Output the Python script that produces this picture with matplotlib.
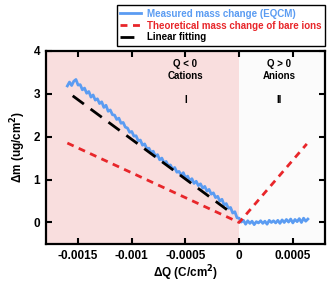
import numpy as np
import matplotlib.pyplot as plt

plt.rcParams['font.family'] = ['Liberation Sans', 'DejaVu Sans']
plt.rcParams['font.weight'] = 'bold'

# measured EQCM mass change (charge in 1e-5 C/cm2)
q_meas = [-160, -158, -156, -154, -152, -150, -148, -146, -144, -142,
          -140, -138, -136, -134, -132, -130, -128, -126, -124, -122,
          -120, -118, -116, -114, -112, -110, -108, -106, -104, -102,
          -100, -98, -96, -94, -92, -90, -88, -86, -84, -82,
          -80, -78, -76, -74, -72, -70, -68, -66, -64, -62,
          -60, -58, -56, -54, -52, -50, -48, -46, -44, -42,
          -40, -38, -36, -34, -32, -30, -28, -26, -24, -22,
          -20, -18, -16, -14, -12, -10, -8, -6, -4, -2,
          0, 2, 4, 6, 8, 10, 12, 14, 16, 18,
          20, 22, 24, 26, 28, 30, 32, 34, 36, 38,
          40, 42, 44, 46, 48, 50, 52, 54, 56, 58,
          60, 62, 64]
m_meas = [3.18, 3.27, 3.19, 3.29, 3.33, 3.20, 3.21, 3.09, 3.13, 3.01,
          3.05, 2.92, 2.97, 2.85, 2.88, 2.77, 2.81, 2.68, 2.73, 2.59,
          2.62, 2.51, 2.50, 2.40, 2.43, 2.31, 2.33, 2.22, 2.20, 2.10,
          2.12, 2.01, 2.02, 1.90, 1.92, 1.80, 1.83, 1.72, 1.73, 1.63,
          1.66, 1.54, 1.58, 1.46, 1.50, 1.39, 1.42, 1.32, 1.34, 1.24,
          1.28, 1.17, 1.19, 1.10, 1.16, 1.04, 1.08, 0.97, 1.02, 0.91,
          0.96, 0.86, 0.90, 0.80, 0.84, 0.73, 0.77, 0.66, 0.69, 0.58,
          0.61, 0.50, 0.54, 0.41, 0.44, 0.33, 0.35, 0.22, 0.25, 0.11,
          0.10, 0.01, 0.05, -0.04, 0.04, -0.02, 0.03, -0.05, 0.02, -0.01,
          0.04, -0.02, 0.03, -0.04, 0.05, 0.00, 0.04, -0.01, 0.05, -0.02,
          0.06, 0.00, 0.07, 0.01, 0.08, -0.01, 0.07, 0.02, 0.09, 0.00,
          0.10, 0.03, 0.08]

# theoretical mass change of bare ions
q_theo = [-0.00160, 0.0, 0.00063]
m_theo = [1.85, 0.0, 1.83]

# linear fit
q_fit = [-0.00155, -0.00006]
m_fit = [2.95, 0.20]

fig = plt.figure(figsize=(3.3, 2.85), dpi=100)
ax = fig.add_axes([0.139, 0.144, 0.846, 0.678])

ax.axvspan(-0.0018, 0, color='#f9dede', lw=0, zorder=0)
ax.axvspan(0, 0.0008, color='#fbfbfb', lw=0, zorder=0)

ax.plot(np.array(q_meas) * 1e-5, m_meas, color='#5b9cf2', lw=2.0,
        label='Measured mass change (EQCM)', zorder=2)
ax.plot(q_theo, m_theo, color='#e8262a', lw=2, ls=(0, (2.5, 2)),
        label='Theoretical mass change of bare ions', zorder=3)
ax.plot(q_fit, m_fit, color='black', lw=2, ls=(0, (5, 3)),
        label='Linear fitting', zorder=4)

ax.text(-0.0005, 3.55, 'Q < 0\nCations', ha='center', va='center',
        fontsize=7, fontweight='bold', linespacing=1.3)
ax.text(0.00037, 3.55, 'Q > 0\nAnions', ha='center', va='center',
        fontsize=7, fontweight='bold', linespacing=1.3)
ax.text(-0.0005, 2.85, 'I', ha='center', va='center', fontsize=7,
        fontweight='bold')
ax.text(0.00037, 2.85, 'II', ha='center', va='center', fontsize=7,
        fontweight='bold')

ax.set_xlim(-0.0018, 0.0008)
ax.set_ylim(-0.5, 4)
ax.set_xticks([-0.0015, -0.001, -0.0005, 0, 0.0005])
ax.set_xticklabels(['-0.0015', '-0.001', '-0.0005', '0', '0.0005'])
ax.set_yticks([0, 1, 2, 3, 4])
ax.tick_params(direction='in', top=True, right=True, length=4, width=1.5,
               labelsize=8.5, pad=4)
for lab in ax.get_xticklabels() + ax.get_yticklabels():
    lab.set_fontweight('bold')
for s in ax.spines.values():
    s.set_linewidth(1.6)

ax.set_xlabel('ΔQ (C/cm$^\\mathbf{2}$)', fontsize=8.5, fontweight='bold', labelpad=1)
ax.set_ylabel('Δm (ug/cm$^\\mathbf{2}$)', fontsize=8.5, fontweight='bold', labelpad=4)

leg = ax.legend(loc='lower right', bbox_to_anchor=(1.0, 1.025), borderaxespad=0,
                fontsize=7, fancybox=False, edgecolor='black', framealpha=1,
                handlelength=2.2, handletextpad=0.6, labelspacing=0.2,
                borderpad=0.35)
leg.get_frame().set_linewidth(1.0)
for txt, c in zip(leg.get_texts(), ['#5b9cf2', '#e8262a', 'black']):
    txt.set_color(c)
    txt.set_fontweight('bold')

fig.savefig('out.png', dpi=100)
